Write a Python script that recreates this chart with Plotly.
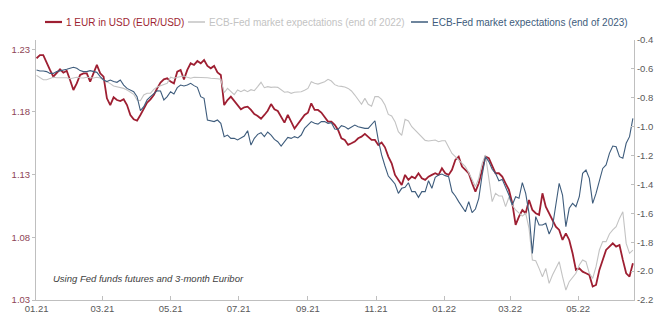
import pandas as pd
import plotly.graph_objects as go

# ---------------- data ----------------
start_date = "2021-01-01"   # first observation, sampled every 3 days

eur_usd = [
    1.2228, 1.2254, 1.2254, 1.2188, 1.2135, 1.2082, 1.2108, 1.2140, 1.2113, 1.2129,
    1.2055, 1.1975, 1.2028, 1.2095, 1.2108, 1.2108, 1.2042, 1.2113, 1.2175, 1.2108,
    1.2082, 1.1909, 1.1855, 1.1917, 1.1895, 1.1887, 1.1901, 1.1855, 1.1776, 1.1741,
    1.1730, 1.1776, 1.1829, 1.1874, 1.1901, 1.1935, 1.1988, 1.2034, 1.2060, 1.2068,
    1.2042, 1.2028, 1.2121, 1.2135, 1.2060, 1.2135, 1.2188, 1.2175, 1.2206, 1.2188,
    1.2214, 1.2167, 1.2148, 1.2167, 1.2116, 1.2095, 1.1855, 1.1895, 1.1922, 1.1890,
    1.1855, 1.1821, 1.1837, 1.1842, 1.1816, 1.1784, 1.1768, 1.1746, 1.1776, 1.1810,
    1.1863, 1.1821, 1.1808, 1.1762, 1.1715, 1.1776, 1.1715, 1.1667, 1.1704, 1.1736,
    1.1776, 1.1794,
    1.1869, 1.1816, 1.1816, 1.1795, 1.1763, 1.1723, 1.1723, 1.1697, 1.1657, 1.1590,
    1.1577, 1.1537, 1.1550, 1.1564, 1.1590, 1.1603, 1.1625, 1.1603, 1.1577, 1.1577,
    1.1537, 1.1556, 1.1518, 1.1444, 1.1391, 1.1298, 1.1258, 1.1218, 1.1298, 1.1258,
    1.1284, 1.1271, 1.1311, 1.1271, 1.1258, 1.1284, 1.1298, 1.1311, 1.1298, 1.1351,
    1.1311, 1.1298,
    1.1338, 1.1417, 1.1444, 1.1364, 1.1338, 1.1311, 1.1231, 1.1165, 1.1231, 1.1338,
    1.1444, 1.1431, 1.1364, 1.1311, 1.1311, 1.1284, 1.1231, 1.1178, 1.1072, 1.0899,
    1.0965, 1.1018, 1.0992, 1.1098, 1.1018, 1.0992, 1.0979, 1.1151, 1.1045, 1.0992,
    1.0939, 1.0885, 1.0859, 1.0779, 1.0832, 1.0779, 1.0673, 1.0540, 1.0553, 1.0526,
    1.0513, 1.0500, 1.0407, 1.0420, 1.0540, 1.0620, 1.0699, 1.0726, 1.0752, 1.0726,
    1.0739, 1.0620,
    1.0513, 1.0487, 1.0593,
]

spread_2022 = [
    -0.645, -0.661, -0.675, -0.675, -0.665, -0.658, -0.661, -0.661, -0.656, -0.661,
    -0.668, -0.665, -0.658, -0.661, -0.663, -0.658, -0.661, -0.663, -0.658, -0.663,
    -0.677, -0.688, -0.702, -0.718, -0.723, -0.725, -0.735, -0.746, -0.760, -0.776,
    -0.815, -0.820, -0.781, -0.769, -0.769, -0.742, -0.725, -0.716, -0.705, -0.700,
    -0.658, -0.665, -0.658, -0.654, -0.649, -0.658, -0.665, -0.658, -0.658, -0.661,
    -0.658, -0.661, -0.665, -0.665, -0.668, -0.672, -0.765, -0.735, -0.760, -0.778,
    -0.746, -0.758, -0.746, -0.758, -0.744, -0.751, -0.723, -0.693, -0.730, -0.723,
    -0.728, -0.725, -0.728, -0.746, -0.762, -0.758, -0.769, -0.762, -0.758, -0.758,
    -0.748, -0.735,
    -0.689, -0.700, -0.705, -0.695, -0.689, -0.672, -0.684, -0.709, -0.719, -0.721,
    -0.725, -0.735, -0.753, -0.781, -0.811, -0.845, -0.804, -0.845, -0.859, -0.792,
    -0.792, -0.811, -0.850, -0.915, -0.926, -0.965, -1.035, -1.060, -0.949, -0.961,
    -1.000, -1.025, -1.051, -1.069, -1.095, -1.099, -1.097, -1.092, -1.104, -1.097,
    -1.097, -1.139,
    -1.185, -1.208, -1.231, -1.254, -1.277, -1.319, -1.369, -1.415, -1.358, -1.254,
    -1.196, -1.369, -1.519, -1.462, -1.480, -1.480, -1.554, -1.489, -1.542, -1.577,
    -1.595, -1.619, -1.600, -1.704, -1.923, -1.928, -1.981, -2.039, -1.981, -2.085,
    -2.027, -1.981, -1.935, -2.039, -2.131, -2.073, -2.043, -2.015, -1.958, -1.923,
    -1.935, -2.015, -2.050, -1.969, -1.854, -1.796, -1.796, -1.743, -1.715, -1.692,
    -1.635, -1.589,
    -1.808, -1.877, -1.854,
]

spread_2023 = [
    -0.608, -0.615, -0.615, -0.619, -0.631, -0.631, -0.619, -0.615, -0.612, -0.603,
    -0.596, -0.589, -0.596, -0.612, -0.619, -0.619, -0.612, -0.617, -0.624, -0.654,
    -0.677, -0.688, -0.677, -0.688, -0.693, -0.677, -0.712, -0.735, -0.746, -0.758,
    -0.792, -0.889, -0.862, -0.815, -0.792, -0.769, -0.751, -0.753, -0.815, -0.792,
    -0.758, -0.774, -0.730, -0.712, -0.718, -0.712, -0.700, -0.716, -0.728, -0.792,
    -0.804, -0.954, -0.958, -0.965, -0.954, -0.977, -1.069, -1.058, -1.081, -1.081,
    -1.092, -1.081, -1.065, -1.028, -1.127, -1.081, -1.053, -1.042, -1.069, -1.037,
    -1.058, -1.088, -1.104, -1.134, -1.102, -1.074, -1.081, -1.069, -1.078, -1.058,
    -1.012, -0.988,
    -0.965, -0.977, -0.982, -0.965, -0.965, -0.977, -0.972, -1.016, -1.019, -0.993,
    -1.000, -1.016, -1.005, -0.989, -1.000, -1.007, -1.012, -1.012, -0.982, -0.959,
    -1.092, -1.196, -1.272, -1.342, -1.369, -1.397, -1.462, -1.427, -1.420, -1.388,
    -1.450, -1.450, -1.489, -1.450, -1.450, -1.374, -1.427, -1.351, -1.335, -1.328,
    -1.339, -1.346,
    -1.450, -1.480, -1.519, -1.554, -1.589, -1.519, -1.595, -1.570, -1.496, -1.335,
    -1.208, -1.242, -1.295, -1.323, -1.374, -1.365, -1.415, -1.473, -1.542, -1.485,
    -1.496, -1.388, -1.462, -1.600, -1.877, -1.623, -1.681, -1.681, -1.669, -1.743,
    -1.692, -1.554, -1.392, -1.473, -1.692, -1.565, -1.531, -1.554, -1.485, -1.323,
    -1.300, -1.358, -1.531, -1.462, -1.369, -1.289, -1.265, -1.185, -1.134, -1.139,
    -1.208, -1.219,
    -1.115, -1.069, -0.942,
]

series_names = [
    "1 EUR in USD (EUR/USD)",
    "ECB-Fed market expectations (end of 2022)",
    "ECB-Fed market expectations (end of 2023)",
]

x_tick_dates = ["2021-01-01", "2021-03-01", "2021-05-01", "2021-07-01", "2021-09-01",
                "2021-11-01", "2022-01-01", "2022-03-01", "2022-05-01"]
x_tick_labels = ["01.21", "03.21", "05.21", "07.21", "09.21", "11.21", "01.22", "03.22", "05.22"]

left_ticks = [1.03, 1.08, 1.13, 1.18, 1.23]
right_ticks = [-2.2, -2.0, -1.8, -1.6, -1.4, -1.2, -1.0, -0.8, -0.6, -0.4]
right_tick_labels = ["-2.2", "-2.0", "-1.8", "-1.6", "-1.4", "-1.2", "-1.0", "-0.8", "-0.6", "-0.4"]

note_text = "Using Fed funds futures and 3-month Euribor"

# ---------------- styling ----------------
RED = "#9E1F32"
GREY = "#C3C3C3"
BLUE = "#3E5C7C"
AXIS = "#BFBFBF"
FONT = "Liberation Sans, Arial, sans-serif"

W, H = 670, 327
ML, MR, MT, MB = 36, 36, 40, 27
PW, PH = W - ML - MR, H - MT - MB


def px_x(p):
    return (p - ML) / PW


def px_y(p):
    return (MT + PH - p) / PH


dates = pd.date_range(start_date, periods=len(eur_usd), freq="3D")

fig = go.Figure()
fig.add_trace(go.Scatter(x=dates, y=spread_2022, yaxis="y2", mode="lines",
                         name=series_names[1], line=dict(color=GREY, width=1.1)))
fig.add_trace(go.Scatter(x=dates, y=spread_2023, yaxis="y2", mode="lines",
                         name=series_names[2], line=dict(color=BLUE, width=1.1)))
fig.add_trace(go.Scatter(x=dates, y=eur_usd, yaxis="y", mode="lines",
                         name=series_names[0], line=dict(color=RED, width=1.8)))

# legend drawn as a row of line samples and texts (compact, like the original)
legend_items = [(series_names[0], RED, 45, 1.8),
                (series_names[1], GREY, 188, 1.1),
                (series_names[2], BLUE, 411, 1.1)]
legend_y = 22
shapes = []
annotations = []
for name, col, x0, lw in legend_items:
    shapes.append(dict(type="line", xref="paper", yref="paper",
                       x0=px_x(x0), x1=px_x(x0 + 17), y0=px_y(legend_y), y1=px_y(legend_y),
                       line=dict(color=col, width=lw + 0.4)))
    annotations.append(dict(text=name, xref="paper", yref="paper",
                            x=px_x(x0 + 19), y=px_y(legend_y), xanchor="left", yanchor="middle",
                            showarrow=False, font=dict(size=10, color=col, family=FONT)))

annotations.append(dict(
    text=f"<i>{note_text}</i>", xref="paper", yref="paper",
    x=px_x(51), y=px_y(278), xanchor="left", yanchor="middle", showarrow=False,
    font=dict(size=9.5, color="#404040", family=FONT)))

fig.update_layout(
    width=W, height=H,
    margin=dict(l=ML, r=MR, t=MT, b=MB),
    paper_bgcolor="white", plot_bgcolor="white",
    font=dict(family=FONT, size=9, color="#595959"),
    showlegend=False,
    shapes=shapes,
    annotations=annotations,
    xaxis=dict(
        type="date", range=["2020-12-31 12:00", "2022-06-20"],
        tickvals=x_tick_dates, ticktext=x_tick_labels,
        showgrid=False, zeroline=False,
        showline=True, linecolor=AXIS, linewidth=1,
        ticks="inside", ticklen=4, tickcolor=AXIS,
        tickfont=dict(size=9.5, color="#595959"),
    ),
    yaxis=dict(
        range=[1.03, 1.2374], tickvals=left_ticks, ticktext=[f"{v:.2f}" for v in left_ticks],
        showgrid=False, zeroline=False,
        showline=True, linecolor=AXIS, linewidth=1,
        ticks="outside", ticklen=3, tickcolor=AXIS,
        tickfont=dict(size=9.5, color="#8E4455"),
    ),
    yaxis2=dict(
        range=[-2.2, -0.4], overlaying="y", side="right",
        tickvals=right_ticks, ticktext=right_tick_labels,
        showgrid=False, zeroline=False,
        showline=True, linecolor=AXIS, linewidth=1,
        ticks="inside", ticklen=3, tickcolor=AXIS,
        tickfont=dict(size=9.5, color="#595959"),
    ),
)

fig.write_html("out.html")
